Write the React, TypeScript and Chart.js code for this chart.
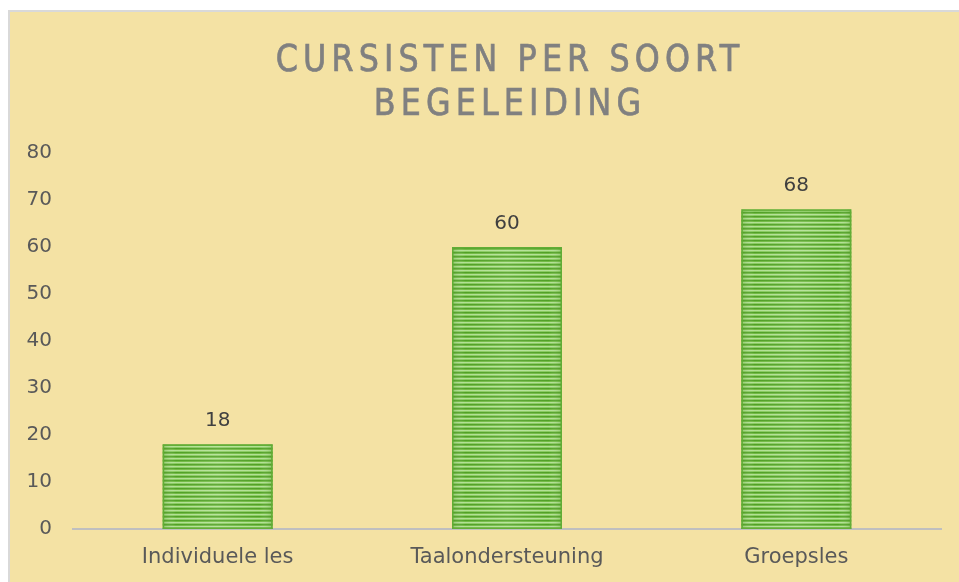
import React, { useEffect, useRef } from "react";
import { Chart, registerables } from "chart.js";

Chart.register(...registerables);

const categories = ["Individuele les", "Taalondersteuning", "Groepsles"];
const values = [18, 60, 68];
const titleLines = ["CURSISTEN PER SOORT", "BEGELEIDING"];
const yMin = 0;
const yMax = 80;
const yStep = 10;

function makeStripePattern(ctx: CanvasRenderingContext2D) {
  const c = document.createElement("canvas");
  c.width = 4;
  c.height = 4;
  const p = c.getContext("2d")!;
  const rows = ["#51a026", "#72ba44", "#b2e094", "#89cb60"];
  rows.forEach((col, i) => {
    p.fillStyle = col;
    p.fillRect(0, i, 4, 1);
  });
  return ctx.createPattern(c, "repeat")!;
}

const overlayPlugin = {
  id: "barOverlay",
  afterDatasetsDraw(chart: any) {
    const ctx = chart.ctx;
    const meta = chart.getDatasetMeta(0);
    ctx.save();
    meta.data.forEach((bar: any, i: number) => {
      const left = bar.x - bar.width / 2;
      const right = bar.x + bar.width / 2;
      const top = bar.y;
      const bottom = bar.base;
      const g = ctx.createLinearGradient(left, 0, right, 0);
      g.addColorStop(0, "rgba(70,140,25,0.3)");
      g.addColorStop(0.12, "rgba(255,255,255,0.0)");
      g.addColorStop(0.5, "rgba(255,255,255,0.1)");
      g.addColorStop(0.88, "rgba(255,255,255,0.0)");
      g.addColorStop(1, "rgba(70,140,25,0.3)");
      ctx.fillStyle = g;
      ctx.fillRect(left, top, right - left, bottom - top);
      ctx.strokeStyle = "#62ad36";
      ctx.lineWidth = 1.5;
      ctx.strokeRect(left + 0.75, top + 0.75, right - left - 1.5, bottom - top - 1.5);
      // value label
      ctx.fillStyle = "#404040";
      ctx.font = "20px 'DejaVu Sans'";
      ctx.textAlign = "center";
      ctx.textBaseline = "alphabetic";
      ctx.fillText(String(values[i]), bar.x, top - 18);
    });
    ctx.restore();
  },
};

export default function App() {
  const ref = useRef<HTMLCanvasElement>(null);

  useEffect(() => {
    const canvas = ref.current!;
    const ctx = canvas.getContext("2d")!;
    const pattern = makeStripePattern(ctx);
    const chart = new Chart(canvas, {
      type: "bar",
      data: {
        labels: categories,
        datasets: [
          {
            data: values,
            backgroundColor: pattern as any,
            borderWidth: 0,
            barPercentage: 0.38,
            categoryPercentage: 1,
          },
        ],
      },
      options: {
        animation: false,
        responsive: false,
        maintainAspectRatio: false,
        layout: { padding: { top: 141, right: 18, left: 0, bottom: 0 } },
        plugins: {
          legend: { display: false },
          title: { display: false },
          tooltip: { enabled: false },
        },
        scales: {
          x: {
            grid: { display: false, drawTicks: false },
            border: { display: true, color: "#bfbfbf", width: 2 },
            ticks: {
              color: "#595959",
              font: { family: "'DejaVu Sans'", size: 21 },
              padding: 16,
            },
            afterFit(scale: any) {
              scale.height = 53;
            },
          },
          y: {
            min: yMin,
            max: yMax,
            grid: { display: false, drawTicks: false },
            border: { display: false },
            ticks: {
              stepSize: yStep,
              color: "#595959",
              font: { family: "'DejaVu Sans'", size: 20 },
              padding: 21,
            },
            afterFit(scale: any) {
              scale.width = 63;
            },
          },
        },
      },
      plugins: [overlayPlugin],
    });
    return () => chart.destroy();
  }, []);

  return (
    <div
      style={{
        position: "fixed",
        left: 8,
        top: 10,
        width: 951,
        height: 572,
        boxSizing: "border-box",
        background: "#f4e2a4",
        borderTop: "2px solid #d9d9d9",
        borderLeft: "2px solid #d9d9d9",
        overflow: "hidden",
      }}
    >
      <canvas ref={ref} width={949} height={570} style={{ display: "block" }} />
      <div
        style={{
          position: "absolute",
          left: 66,
          right: 15,
          top: 24,
          textAlign: "center",
          color: "#808080",
          fontFamily: "'Liberation Sans Narrow', 'DejaVu Sans Condensed', 'DejaVu Sans'",
          fontWeight: 400,
          fontSize: 38,
          lineHeight: "44px",
          letterSpacing: "5.5px",
          WebkitTextStroke: "0.7px #808080",
          transform: "scaleX(0.93)",
          transformOrigin: "center",
        }}
      >
        {titleLines.map((l) => (
          <div key={l}>{l}</div>
        ))}
      </div>
    </div>
  );
}
